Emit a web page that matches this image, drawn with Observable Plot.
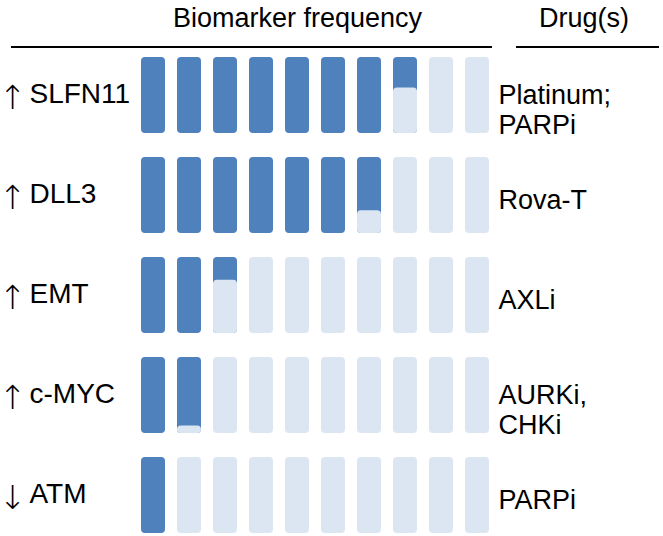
<!DOCTYPE html>
<html>
<head>
<meta charset="utf-8">
<script src="https://cdn.jsdelivr.net/npm/d3@7"></script>
<script src="https://cdn.jsdelivr.net/npm/@observablehq/plot@0.6"></script>
<style>
  html, body { margin: 0; padding: 0; background: #fff; }
  #wrap { position: relative; width: 663px; height: 536px; font-family: "Liberation Sans", Arial, sans-serif; }
  .hdr { position: absolute; font-size: 27px; line-height: 1; color: #000; white-space: nowrap; }
  .rule { position: absolute; height: 0; border-top: 2px solid #000; }
</style>
</head>
<body>
<div id="wrap">
  <div class="hdr" style="left:173px; top:5px;">Biomarker frequency</div>
  <div class="hdr" style="left:539px; top:5px;">Drug(s)</div>
  <div class="rule" style="left:11px; top:46px; width:481px;"></div>
  <div class="rule" style="left:516px; top:46px; width:143px;"></div>
</div>
<script>
// ---- data ----
const markers = ["SLFN11", "DLL3", "EMT", "c-MYC", "ATM"];
const directions = ["↑", "↑", "↑", "↑", "↓"];
const frequencies = [74, 67, 23, 19, 10];           // percent of patients
const drugs = ["Platinum;\nPARPi", "Rova-T", "AXLi", "AURKi,\nCHKi", "PARPi"];
const columns = [1, 2, 3, 4, 5, 6, 7, 8, 9, 10];    // each block = 10%
const blockSize = 10;

// ---- derived table ----
const cells = markers.flatMap((m, i) =>
  columns.map(c => {
    const f = Math.max(0, Math.min(1, (frequencies[i] - (c - 1) * blockSize) / blockSize));
    return { marker: m, col: c, f };
  })
);
const filled = cells.filter(d => d.f > 0);
const empty = cells.filter(d => d.f < 1);
const labelRows = markers.map((m, i) => ({ marker: m, arrow: directions[i], name: m }));
const drugRows = markers.map((m, i) => ({ marker: m, text: drugs[i] }));
const drugSingle = drugRows.filter(d => !d.text.includes("\n"));
const drugDouble = drugRows.filter(d => d.text.includes("\n"));

const dark = "#4F81BD";
const light = "#DCE6F2";

const chart = Plot.plot({
  width: 663,
  height: 536,
  marginTop: 56,
  marginBottom: 3,
  marginLeft: 139,
  marginRight: 171,
  facet: { marginTop: 0, marginBottom: 0, marginLeft: 0, marginRight: 0 },
  style: { fontFamily: "Liberation Sans, Arial, sans-serif", background: "#fff", color: "#000" },
  x: { domain: columns, paddingInner: 0.33, paddingOuter: 0, axis: null },
  y: { domain: [0, 1], reverse: true, axis: null },
  fy: { domain: markers, paddingInner: 0.24, paddingOuter: 0, axis: null },
  marks: [
    Plot.barY(filled, { fy: "marker", x: "col", y1: 0, y2: 1, fill: dark, rx: 4 }),
    Plot.barY(empty, { fy: "marker", x: "col", y1: "f", y2: 1, fill: light, rx: 4 }),
    Plot.text(labelRows, {
      fy: "marker", text: "arrow", frameAnchor: "left", textAnchor: "middle",
      dx: -127, dy: 3, fontSize: 33, fontFamily: "DejaVu Sans", fontWeight: 200, fill: "black"
    }),
    Plot.text(labelRows, {
      fy: "marker", text: "name", frameAnchor: "left", textAnchor: "start",
      dx: -110, dy: -1, fontSize: 28, fill: "black"
    }),
    Plot.text(drugSingle, {
      fy: "marker", text: "text", frameAnchor: "right", textAnchor: "start",
      dx: 6, dy: 5, fontSize: 27, fill: "black"
    }),
    Plot.text(drugDouble, {
      fy: "marker", text: "text", frameAnchor: "right", textAnchor: "start",
      dx: 6, dy: 14, fontSize: 27, lineHeight: 1.11, fill: "black"
    })
  ]
});
chart.style.position = "absolute";
chart.style.left = "0px";
chart.style.top = "0px";
const wrap = document.getElementById("wrap");
wrap.insertBefore(chart, wrap.firstChild);
</script>
</body>
</html>
